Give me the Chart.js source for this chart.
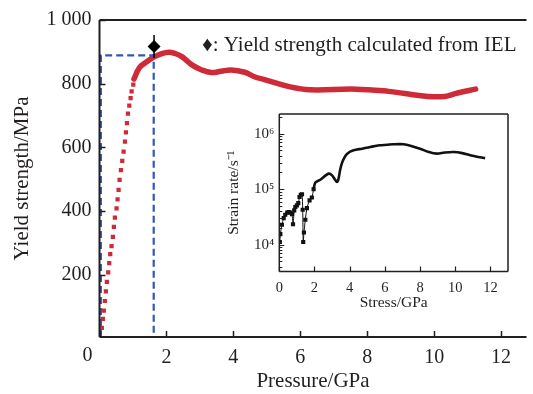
<!DOCTYPE html>
<html lang="en">
<head>
<meta charset="UTF-8">
<title>Yield strength vs pressure</title>
<script src="https://cdn.jsdelivr.net/npm/chart.js"></script>
<style>
  html, body { margin: 0; padding: 0; background: #fff; }
  #wrap { position: relative; width: 533px; height: 394px; overflow: hidden; }
  #main { position: absolute; left: 0; top: 0; }
  #inset { position: absolute; left: 220px; top: 100px; }
</style>
</head>
<body>
<div id="wrap">
  <canvas id="main" width="533" height="394"></canvas>
  <canvas id="inset" width="300" height="215"></canvas>
</div>
<script>
// elastic ramp (dotted), pressure in GPa / strength in MPa
const rampPressure = [0.07, 0.10, 0.13, 0.16, 0.19, 0.22, 0.26, 0.29, 0.32, 0.36, 0.40, 0.43, 0.46, 0.51,
  0.54, 0.57, 0.60, 0.64, 0.68, 0.72, 0.76, 0.79, 0.82, 0.85, 0.89, 0.93, 0.96, 1.01];
const rampStrength = [34, 62, 88, 118, 148, 178, 208, 237, 265, 290, 319, 351, 380, 409,
  437, 467, 498, 529, 558, 587, 618, 647, 676, 706, 731, 755, 776, 797];

// plastic flow part (solid)
const flowPressure = [1.03, 1.19, 1.40, 1.63, 1.84, 2.07, 2.28, 2.46, 2.75, 3.04, 3.34, 3.63, 3.93, 4.34,
  4.63, 4.93, 5.70, 6.29, 7.66, 8.64, 9.13, 9.82, 10.31, 10.70, 11.24];
const flowStrength = [815, 850, 868, 884, 894, 899, 894, 885, 860, 844, 835, 839, 843, 836,
  822, 813, 790, 781, 783, 776, 769, 760, 760, 771, 783];

// blue dashed guide box
const boxPressure = [0.04, 0.04, 1.62, 1.62, 0.04];
const boxStrength = [5, 889, 889, 5, 5];

// yield strength from IEL
const ielPressure = [1.63];
const ielStrength = [917];
const ielError = [36];

const pressureTicks = [0, 2, 4, 6, 8, 10, 12];
const strengthTicks = [200, 400, 600, 800, 1000];

// inset: strain rate vs stress
const stress = [0.03, 0.06, 0.15, 0.25, 0.34, 0.45, 0.53, 0.63, 0.72, 0.78, 0.85, 0.91, 1.00, 1.08, 1.15,
  1.22, 1.29, 1.33, 1.36, 1.40, 1.48, 1.57, 1.72, 1.85, 1.95, 2.05, 2.33, 2.60, 2.81, 3.00, 3.15, 3.28,
  3.36, 3.46, 3.56, 3.70, 3.86, 4.22, 4.70, 5.17, 5.70, 6.12, 6.50, 7.06, 7.50, 8.00, 8.50, 8.96, 9.40,
  9.90, 10.40, 10.85, 11.30, 11.70];
const strainRate = [11200, 15500, 22900, 30200, 34700, 38000, 38900, 38000, 35500, 23400, 41700, 47900,
  51300, 56200, 72400, 79400, 81300, 42700, 11200, 16600, 28200, 45700, 63100, 70800, 100000, 131800,
  147900, 173800, 190500, 177800, 151400, 134900, 151400, 223900, 295100, 371500, 436500, 501200,
  537000, 575400, 616600, 631000, 645700, 645700, 602600, 537000, 467700, 436500, 457100, 467700,
  446700, 407400, 380200, 363100];
const stressTicks = [0, 2, 4, 6, 8, 10, 12];
const rateTicks = [1e4, 1e5, 1e6];
const rateLabels = {10000: '10\u2074', 100000: '10\u2075', 1000000: '10\u2076'};

const INK = '#231f20';
const RED = '#cf2a37';
const BLUE = '#2f56b8';
const SERIF = "'Liberation Serif', 'Times New Roman', serif";

const pts = (xs, ys) => xs.map((x, i) => ({x: x, y: ys[i]}));

// axis lines + inward tick marks
const frame = {
  id: 'frame',
  afterDatasetsDraw(chart, args, opts) {
    const {ctx, chartArea: a, scales: {x, y}} = chart;
    ctx.save();
    ctx.strokeStyle = INK;
    ctx.lineWidth = opts.lineWidth;
    ctx.beginPath();
    if (opts.sides.includes('left')) { ctx.moveTo(a.left, a.top); ctx.lineTo(a.left, a.bottom); }
    if (opts.sides.includes('bottom')) { ctx.moveTo(a.left, a.bottom); ctx.lineTo(a.right, a.bottom); }
    if (opts.sides.includes('top')) { ctx.moveTo(a.left, a.top); ctx.lineTo(a.right, a.top); }
    if (opts.sides.includes('right')) { ctx.moveTo(a.right, a.top); ctx.lineTo(a.right, a.bottom); }
    ctx.stroke();
    ctx.lineWidth = opts.tickWidth;
    ctx.beginPath();
    x.ticks.forEach(t => {
      const px = Math.round(x.getPixelForValue(t.value)) + 0.5;
      ctx.moveTo(px, a.bottom); ctx.lineTo(px, a.bottom - opts.tickLen);
    });
    y.ticks.forEach(t => {
      const py = Math.round(y.getPixelForValue(t.value)) + 0.5;
      ctx.moveTo(a.left, py); ctx.lineTo(a.left + opts.tickLen, py);
    });
    if (y.type === 'logarithmic') {
      for (let e = Math.floor(Math.log10(y.min)); e <= Math.ceil(Math.log10(y.max)); e++) {
        for (let k = 2; k < 10; k++) {
          const v = k * Math.pow(10, e);
          if (v < y.min || v > y.max) continue;
          const py = Math.round(y.getPixelForValue(v)) + 0.5;
          ctx.moveTo(a.left, py); ctx.lineTo(a.left + opts.minorLen, py);
        }
      }
    }
    ctx.stroke();
    ctx.restore();
  }
};

// note text and the shared origin label
const notes = {
  id: 'notes',
  afterDraw(chart) {
    const {ctx, chartArea: a} = chart;
    ctx.save();
    ctx.fillStyle = INK;
    ctx.font = "20px " + SERIF;
    ctx.textAlign = 'center';
    ctx.textBaseline = 'alphabetic';
    ctx.fillText('0', a.left - 12, 361);
    ctx.font = "21px " + SERIF;
    ctx.textAlign = 'left';
    ctx.fillText('\u2666: Yield strength calculated from IEL', 202, 51);
    ctx.restore();
  }
};

new Chart(document.getElementById('main'), {
  type: 'scatter',
  data: {
    datasets: [
      {
        data: pts(ielPressure, ielStrength),
        pointStyle: 'rectRot', pointRadius: 6.5, backgroundColor: '#000', borderColor: '#000', borderWidth: 0
      },
      {
        data: [{x: ielPressure[0], y: ielStrength[0] - ielError[0]}, {x: ielPressure[0], y: ielStrength[0] + ielError[0]}],
        showLine: true, pointRadius: 0, borderColor: '#000', borderWidth: 1.5
      },
      {
        data: pts(boxPressure, boxStrength),
        showLine: true, pointRadius: 0, borderColor: BLUE, borderWidth: 2.2, borderDash: [7, 4]
      },
      {
        data: pts(flowPressure, flowStrength),
        showLine: true, pointRadius: 0, borderColor: RED, borderWidth: 5.5,
        tension: 0.4, borderCapStyle: 'round'
      },
      {
        data: pts(rampPressure, rampStrength),
        pointStyle: 'rect', pointRadius: 3, backgroundColor: RED, borderWidth: 0
      }
    ]
  },
  options: {
    responsive: false,
    animation: false,
    layout: { padding: { top: 20, right: 0, left: 0, bottom: 0 } },
    plugins: {
      legend: { display: false },
      tooltip: { enabled: false },
      frame: { sides: ['left', 'bottom', 'top'], lineWidth: 2, tickWidth: 1.5, tickLen: 6, minorLen: 3 }
    },
    scales: {
      x: {
        type: 'linear', min: 0, max: 12.76,
        afterBuildTicks: s => { s.ticks = pressureTicks.map(v => ({value: v})); },
        afterFit: s => { s.height = 57; },
        grid: { display: false, drawTicks: false },
        border: { display: false },
        ticks: {
          padding: 9, color: INK, font: { family: SERIF, size: 20 },
          callback: v => (v === 0 ? '' : v)
        },
        title: { display: true, text: 'Pressure/GPa', color: INK, font: { family: SERIF, size: 21 }, padding: { bottom: 0 } }
      },
      y: {
        type: 'linear', min: 5, max: 1000,
        afterBuildTicks: s => { s.ticks = strengthTicks.map(v => ({value: v})); },
        afterFit: s => { s.width = 99.5; },
        grid: { display: false, drawTicks: false },
        border: { display: false },
        ticks: {
          padding: 8, color: INK, font: { family: SERIF, size: 20 },
          callback: v => (v >= 1000 ? '1 000' : v)
        },
        title: { display: true, text: 'Yield strength/MPa', color: INK, font: { family: SERIF, size: 21 }, padding: { top: 10 } }
      }
    }
  },
  plugins: [frame, notes]
});

new Chart(document.getElementById('inset'), {
  type: 'scatter',
  data: {
    datasets: [{
      data: pts(stress, strainRate),
      showLine: true,
      borderColor: '#111',
      backgroundColor: '#111',
      pointStyle: 'rect',
      pointRadius: c => (c.raw && c.raw.x < 2 ? 1.1 : 0),
      borderWidth: 2.6,
      tension: 0.3,
      segment: { borderWidth: c => (c.p0.parsed.x < 1.95 ? 1 : 2.6) }
    }]
  },
  options: {
    responsive: false,
    animation: false,
    layout: { padding: { top: 9, right: 12, left: 0, bottom: 0 } },
    plugins: {
      legend: { display: false },
      tooltip: { enabled: false },
      frame: { sides: ['left', 'bottom', 'top', 'right'], lineWidth: 1.5, tickWidth: 1.2, tickLen: 5, minorLen: 3 }
    },
    scales: {
      x: {
        type: 'linear', min: 0, max: 13,
        afterBuildTicks: s => { s.ticks = stressTicks.map(v => ({value: v})); },
        afterFit: s => { s.height = 43.5; },
        grid: { display: false, drawTicks: false },
        border: { display: false },
        ticks: { padding: 8, color: INK, font: { family: SERIF, size: 14.5 } },
        title: { display: true, text: 'Stress/GPa', color: INK, font: { family: SERIF, size: 15.5 }, padding: { bottom: 3 } }
      },
      y: {
        type: 'logarithmic', min: 3300, max: 2260000,
        afterBuildTicks: s => { s.ticks = rateTicks.map(v => ({value: v})); },
        afterFit: s => { s.width = 59.3; },
        grid: { display: false, drawTicks: false },
        border: { display: false },
        ticks: {
          padding: 5, color: INK, font: { family: SERIF, size: 15 },
          callback: v => rateLabels[v] || ''
        },
        title: { display: true, text: 'Strain rate/s\u207B\u00B9', color: INK, font: { family: SERIF, size: 15.5 }, padding: { top: 5 } }
      }
    }
  },
  plugins: [frame]
});
</script>
</body>
</html>
